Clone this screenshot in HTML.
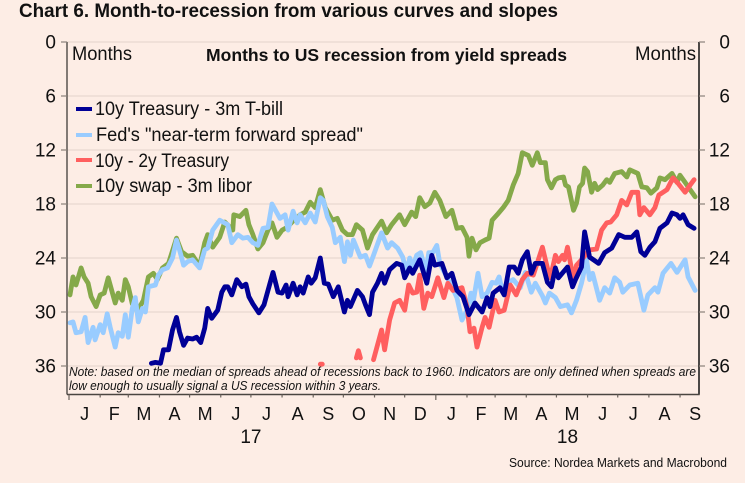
<!DOCTYPE html>
<html>
<head>
<meta charset="utf-8">
<style>
html,body{margin:0;padding:0;background:#fdede5;}
svg{display:block;font-family:"Liberation Sans",sans-serif;fill:#111;}
</style>
</head>
<body>
<svg id="chart" width="745" height="483" viewBox="0 0 745 483" xmlns="http://www.w3.org/2000/svg">
<rect x="0" y="0" width="745" height="483" fill="#fdede5"/>
<text x="19" y="17" font-size="19" font-weight="bold" textLength="539" lengthAdjust="spacingAndGlyphs">Chart 6. Month-to-recession from various curves and slopes</text>
<g id="grid"></g>
<g id="series"></g>
<line x1="67" y1="42" x2="67" y2="394.5" stroke="#5a5550" stroke-width="1.5"/>
<line x1="699" y1="42" x2="699" y2="394.5" stroke="#111" stroke-width="1.5"/>
<line x1="67" y1="394.5" x2="699.7" y2="394.5" stroke="#4a4540" stroke-width="1.5"/>
<g id="axes"></g>
<text x="72" y="60" font-size="19" textLength="60" lengthAdjust="spacingAndGlyphs">Months</text>
<text x="635" y="60" font-size="19" textLength="61" lengthAdjust="spacingAndGlyphs">Months</text>
<text x="206" y="61" font-size="17.5" font-weight="bold" textLength="361" lengthAdjust="spacingAndGlyphs">Months to US recession from yield spreads</text>
<g>
<line x1="76" y1="109" x2="92" y2="109" stroke="#000096" stroke-width="4"/>
<text x="95" y="115" font-size="19" textLength="188" lengthAdjust="spacingAndGlyphs">10y Treasury - 3m T-bill</text>
<line x1="76" y1="135" x2="92" y2="135" stroke="#99ccff" stroke-width="4"/>
<text x="96" y="141" font-size="19" textLength="267" lengthAdjust="spacingAndGlyphs">Fed's "near-term forward spread"</text>
<line x1="76" y1="160" x2="92" y2="160" stroke="#ff5f5f" stroke-width="4"/>
<text x="95" y="167" font-size="19" textLength="134" lengthAdjust="spacingAndGlyphs">10y - 2y Treasury</text>
<line x1="76" y1="186" x2="92" y2="186" stroke="#85a94a" stroke-width="4"/>
<text x="95" y="192" font-size="19" textLength="157" lengthAdjust="spacingAndGlyphs">10y swap - 3m libor</text>
</g>
<text x="69" y="376" font-size="13" font-style="italic" textLength="627" lengthAdjust="spacingAndGlyphs">Note: based on the median of spreads ahead of recessions back to 1960. Indicators are only defined when spreads are</text>
<text x="69" y="390" font-size="13" font-style="italic" textLength="312" lengthAdjust="spacingAndGlyphs">low enough to usually signal a US recession within 3 years.</text>
<text x="509" y="467" font-size="12.5" textLength="218" lengthAdjust="spacingAndGlyphs">Source: Nordea Markets and Macrobond</text>
</svg>
<script>
const yTickValues = [0, 6, 12, 18, 24, 30, 36];
const monthLabels = ["J","F","M","A","M","J","J","A","S","O","N","D","J","F","M","A","M","J","J","A","S"];
const monthStartDays = [0,31,59,90,120,151,181,212,243,273,304,334,365,396,424,455,485,516,546,577,608,638];
const yearLabels = ["17","18"];
const yearMidDays = [181,496];
const yearStartDays = [0,365];

const swapDays = [1,4,7,12,15,19,22,27,31,35,39,43,46,49,53,56,59,63,68,74,79,84,88,93,99,107,112,118,123,130,135,138,143,150,155,163,164,170,176,179,183,188,193,198,202,207,212,217,222,230,235,240,245,250,255,262,267,272,277,282,286,292,297,302,311,316,321,329,334,341,345,349,354,359,364,369,375,381,386,391,396,398,401,405,409,414,418,421,426,432,437,442,447,451,457,461,466,469,474,476,480,484,487,492,494,497,502,505,508,511,513,516,520,523,526,531,535,538,543,550,555,558,566,570,575,579,585,588,593,600,605,608,613,618,623];
const swapMonths = [28.1,26.1,27.0,25.1,26.1,26.8,28.3,29.4,28.1,27.9,26.2,27.8,29.0,27.9,28.7,26.4,27.2,29.1,29.9,28.7,26.1,25.7,26.4,25.1,24.6,21.8,23.3,23.8,23.7,24.9,22.3,21.4,22.8,21.7,20.0,20.9,19.2,19.4,18.7,20.3,21.4,23.0,22.3,20.9,20.1,21.7,20.9,20.6,20.0,19.2,18.9,17.8,18.4,16.4,18.4,19.8,19.6,20.9,21.4,21.4,20.3,20.9,22.9,21.4,19.9,21.2,20.3,19.2,20.3,18.9,19.4,17.3,18.3,17.9,16.7,17.6,19.4,18.7,20.7,20.6,21.7,23.8,21.8,23.1,22.3,22.0,21.8,19.8,19.2,18.4,17.6,15.9,14.6,12.3,12.6,13.7,12.3,13.4,13.4,15.3,16.2,15.3,15.1,15.0,15.9,16.1,18.7,17.9,16.1,15.7,14.0,14.4,16.7,15.7,16.4,15.9,15.3,15.6,14.6,14.4,15.0,14.2,14.6,16.1,16.2,16.8,16.2,15.1,15.3,14.6,15.6,14.8,15.6,16.4,17.2];

const forwardDays = [1,4,7,12,16,19,24,26,31,34,38,41,46,49,53,56,59,63,66,69,73,76,79,86,89,93,98,103,107,110,114,118,123,130,135,138,143,150,158,162,168,173,178,183,188,193,198,202,207,210,215,218,223,227,230,235,240,245,250,253,257,262,265,270,274,277,280,283,290,295,299,303,311,317,321,327,332,336,339,342,346,350,355,358,362,366,369,374,381,386,391,396,400,402,407,411,416,421,425,428,431,436,442,449,454,460,464,471,474,478,484,489,496,500,505,510,515,518,521,528,533,538,543,548,551,558,566,572,576,583,586,591,599,605,613,616,623];
const forwardMonths = [31.2,31.1,32.3,32.2,30.6,33.4,31.7,33.1,31.4,32.3,30.2,31.7,33.9,32.3,32.7,30.3,32.8,29.6,28.4,31.1,29.6,30.0,27.2,27.0,25.9,25.3,25.1,24.0,22.0,23.1,24.8,24.4,24.2,25.1,23.1,22.9,20.9,19.8,20.3,22.3,21.4,21.8,21.7,22.3,22.6,20.7,20.6,18.0,19.0,19.6,19.2,20.9,18.8,20.1,19.2,20.1,19.0,20.0,17.3,17.6,19.4,20.6,22.3,21.7,24.4,22.2,23.7,22.0,23.9,23.7,24.9,23.7,21.2,22.9,22.3,22.9,23.9,25.6,24.0,25.0,23.7,23.4,25.6,23.4,23.4,22.6,24.6,25.7,27.2,28.4,30.9,29.8,27.9,29.0,25.7,28.3,27.9,26.7,26.8,26.1,27.6,26.8,26.4,27.3,25.6,27.8,26.8,28.2,29.0,27.9,28.4,29.4,29.2,30.1,28.7,26.8,24.2,26.4,25.7,28.7,27.3,27.9,26.2,26.7,27.8,27.0,26.8,29.8,28.1,27.3,27.8,25.7,24.6,25.6,24.2,26.1,27.6];

const tenTwoDays = [250,252,253,286,288,290,291,303,311,314,319,324,329,334,338,342,346,349,353,357,361,367,373,377,382,391,396,399,403,406,411,414,418,424,428,433,439,445,451,456,462,471,476,479,484,487,491,493,496,502,505,510,518,525,530,535,539,545,550,555,560,566,568,572,578,583,587,595,601,606,613,618,622];
const tenTwoMonths = [35.8,35.8,null,35.1,34.3,35.1,null,35.3,32.0,34.2,30.9,29.0,28.7,29.8,27.0,27.9,27.8,25.9,29.6,27.9,28.3,26.2,28.4,26.8,27.6,27.3,29.4,32.2,31.8,33.9,31.7,30.6,31.7,28.7,30.0,29.8,27.0,28.1,26.4,25.7,25.9,22.8,25.1,26.2,23.7,24.4,23.7,24.2,22.8,26.4,24.8,24.2,23.1,23.0,20.9,20.1,20.0,19.2,17.6,18.1,16.7,16.7,19.2,18.4,19.2,18.4,17.0,16.4,15.1,15.7,16.7,15.9,15.3];

const tbillDays = [82,86,91,94,99,103,107,110,114,118,123,127,131,135,138,142,148,152,155,158,162,167,172,176,179,183,189,194,198,203,208,212,216,218,223,227,230,233,238,241,245,250,254,258,263,268,274,277,280,287,292,295,299,302,307,311,314,319,326,331,334,339,342,349,356,361,364,371,376,381,386,392,398,404,411,416,419,422,429,433,438,443,447,451,456,460,464,471,476,480,484,487,496,501,504,510,513,518,527,533,540,547,553,560,565,569,573,578,583,588,595,600,605,608,611,616,622];
const tbillMonths = [35.7,35.6,35.7,34.2,34.2,32.0,30.6,32.2,33.7,32.9,33.0,32.8,33.4,31.8,29.6,30.7,29.8,27.8,27.2,27.2,28.1,26.4,27.2,26.9,28.3,29.1,30.1,29.2,27.6,25.6,27.8,27.9,27.0,28.3,26.8,28.1,27.2,27.9,26.1,26.8,26.2,24.0,26.8,26.9,28.3,27.2,30.0,28.7,29.4,27.6,28.3,29.2,30.3,27.8,26.8,25.7,26.8,25.3,24.6,24.8,26.2,25.1,25.7,24.2,26.8,23.7,24.8,24.6,26.2,25.7,27.6,28.3,30.3,29.0,30.0,28.4,29.4,27.9,27.3,28.1,25.0,25.0,25.7,24.2,23.3,25.7,24.6,24.6,26.7,27.2,25.1,26.2,25.0,27.2,26.4,25.0,21.1,23.9,24.6,23.4,22.9,21.4,21.7,21.7,21.1,23.3,23.7,22.8,22.2,20.7,20.1,19.0,19.2,19.6,19.2,20.3,20.7];

const svgNS = 'http://www.w3.org/2000/svg';
function xScale(day){ return 69 + 1.005 * day; }
function yScale(months){ return 42 + 9 * months; }
function svgEl(tag, attrs, parent, content){
  const el = document.createElementNS(svgNS, tag);
  for (const k in attrs) el.setAttribute(k, attrs[k]);
  if (content !== undefined) el.textContent = content;
  parent.appendChild(el);
  return el;
}
const gridG = document.getElementById('grid');
const axesG = document.getElementById('axes');
const seriesG = document.getElementById('series');

yTickValues.forEach(function(v){
  const y = yScale(v);
  const grid = svgEl('line', {x1:67, x2:699, y1:y, y2:y, stroke:'#ecdcd3', 'stroke-width':1.5}, gridG);
  
  
  const lt = svgEl('line', {x1:61, x2:67, y1:y, y2:y, stroke:'#8a817a', 'stroke-width':1.2}, axesG);
  
  
  const rt = svgEl('line', {x1:699, x2:705, y1:y, y2:y, stroke:'#8a817a', 'stroke-width':1.2}, axesG);
  
  
  const ll = svgEl('text', {x:56, y:y+6.5, 'font-size':19, 'text-anchor':'end'}, axesG, String(v));
  
  
  const rl = svgEl('text', {x:730, y:y+6.5, 'font-size':19, 'text-anchor':'end'}, axesG, String(v));
  
  
});

monthLabels.forEach(function(label, i){
  const start = monthStartDays[i];
  const isYear = yearStartDays.indexOf(start) >= 0;
  const tick = svgEl('line', {x1:xScale(start), x2:xScale(start), y1:394.5, y2:isYear?400:397.5, stroke:'#6a625c', 'stroke-width':1.2}, axesG);
  
  
  const mid = (monthStartDays[i] + monthStartDays[i+1]) / 2;
  const t = svgEl('text', {x:xScale(mid), y:420, 'font-size':18, 'text-anchor':'middle'}, axesG, label);
  
  
});
yearLabels.forEach(function(label, i){
  const t = svgEl('text', {x:xScale(yearMidDays[i]), y:443, 'font-size':19, 'text-anchor':'middle'}, axesG, label);
  
  
});

function buildPath(days, months){
  let d = '';
  let pen = false;
  days.forEach(function(day, i){
    const v = months[i];
    if (v === null || v === undefined){ pen = false; return; }
    d += (pen ? 'L' : 'M') + xScale(day).toFixed(1) + ' ' + yScale(v).toFixed(1);
    pen = true;
  });
  return d;
}
function drawSeries(days, months, color){
  return svgEl('path', {d:buildPath(days, months), fill:'none', stroke:color, 'stroke-width':4.8, 'stroke-linejoin':'round', 'stroke-linecap':'round'}, seriesG);
}
const swapLine = drawSeries(swapDays, swapMonths, '#85a94a');


const forwardLine = drawSeries(forwardDays, forwardMonths, '#99ccff');


const tenTwoLine = drawSeries(tenTwoDays, tenTwoMonths, '#ff5f5f');


const tbillLine = drawSeries(tbillDays, tbillMonths, '#000096');


</script>
</body>
</html>
